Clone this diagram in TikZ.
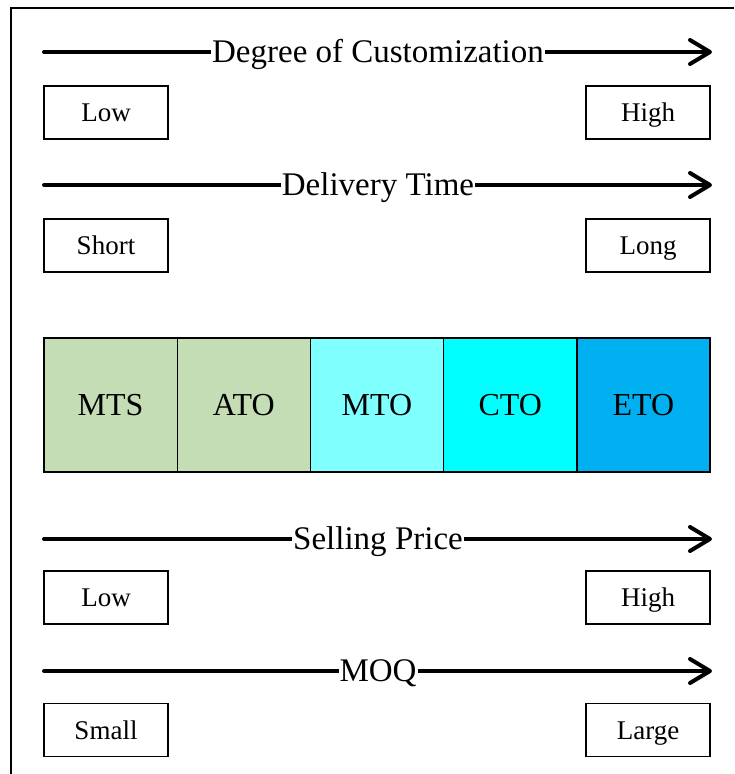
\documentclass[tikz,border=0pt]{standalone}
\usepackage{fontspec}
\setmainfont{Liberation Serif}
\usetikzlibrary{arrows.meta, positioning}

\definecolor{sage}{RGB}{196,221,180}
\definecolor{paleaqua}{RGB}{128,255,255}
\definecolor{aqua}{RGB}{0,255,255}
\definecolor{skyblue}{RGB}{0,176,240}

\begin{document}
\begin{tikzpicture}[
    x=0.5pt, y=-0.5pt,
    node distance = 0pt,
    axis/.style    = {-{Straight Barb[length=10pt, width=12pt, round]},
                      line width=2pt, line cap=round},
    axislbl/.style = {fill=white, inner xsep=0.5pt, inner ysep=0pt,
                      text height=11.5pt, text depth=1pt,
                      font=\fontsize{16.5}{19}\selectfont},
    endbox/.style  = {draw, line width=0.8pt, minimum width=62pt,
                      minimum height=26.5pt, inner sep=0pt,
                      text height=10pt, text depth=1pt,
                      font=\fontsize{13.5}{16}\selectfont},
    cell/.style    = {draw, line width=0.7pt, fill=#1, minimum width=66.6pt,
                      minimum height=67pt, inner sep=0pt, outer sep=0pt,
                      text height=10.5pt, text depth=0pt,
                      font=\fontsize{16}{19}\selectfont},
]
\useasboundingbox (0,0) rectangle (734,774);

%% Frame (only top and left edges are in view)
\draw[line width=1.3pt] (11,774) -- (11,8) -- (734,8);

%% Degree of customization
\coordinate (custS) at (44,52);
\coordinate (custE) at (712,52);
\draw[axis] (custS) -- (custE) node[midway, axislbl] (custlbl) {Degree of Customization};
\node[endbox] (custlow)  at (106,112.5) {Low};
\node[endbox] (custhigh) at (648,112.5) {High};

%% Delivery time
\coordinate (timeS) at (44,185);
\coordinate (timeE) at (712,185);
\draw[axis] (timeS) -- (timeE) node[midway, axislbl] (timelbl) {Delivery Time};
\node[endbox] (timeshort) at (106,245.5) {Short};
\node[endbox] (timelong)  at (648,245.5) {Long};

%% Production strategies
\node[cell=sage]     (mts) at (110.6,405) {MTS};
\node[cell=sage,     right=of mts] (ato) {ATO};
\node[cell=paleaqua, right=of ato] (mto) {MTO};
\node[cell=aqua,     right=of mto] (cto) {CTO};
\node[cell=skyblue,  right=of cto] (eto) {ETO};

%% Selling price
\coordinate (priceS) at (44,539);
\coordinate (priceE) at (712,539);
\draw[axis] (priceS) -- (priceE) node[midway, axislbl] (pricelbl) {Selling Price};
\node[endbox] (pricelow)  at (106,597.5) {Low};
\node[endbox] (pricehigh) at (648,597.5) {High};

%% MOQ
\coordinate (moqS) at (44,671);
\coordinate (moqE) at (712,671);
\draw[axis] (moqS) -- (moqE) node[midway, axislbl] (moqlbl) {MOQ};
\node[endbox] (moqsmall) at (106,730) {Small};
\node[endbox] (moqlarge) at (648,730) {Large};

\end{tikzpicture}
\end{document}
